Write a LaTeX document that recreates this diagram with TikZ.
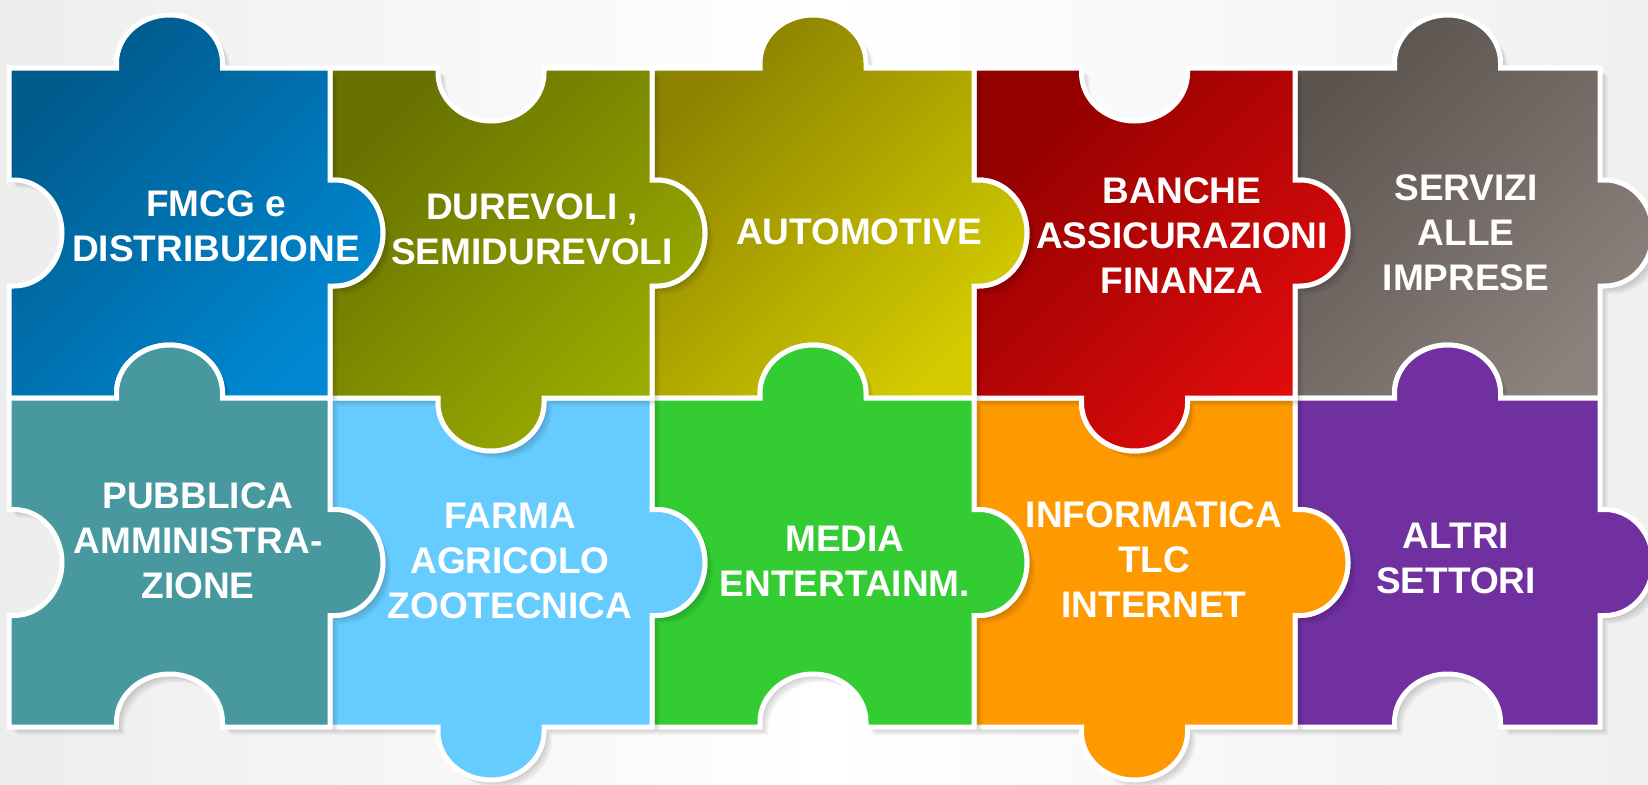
\documentclass[tikz,border=0pt]{standalone}
\usepackage{fontspec}
\setmainfont{Liberation Sans}
\definecolor{c1a}{HTML}{005A8C}\definecolor{c1b}{HTML}{0088D2}
\definecolor{c2a}{HTML}{687200}\definecolor{c2b}{HTML}{9CAE00}
\definecolor{c3a}{HTML}{8C8200}\definecolor{c3b}{HTML}{D4CC00}
\definecolor{c4a}{HTML}{920000}\definecolor{c4b}{HTML}{E20C0C}
\definecolor{c5a}{HTML}{5C544F}\definecolor{c5b}{HTML}{8C827E}
\definecolor{c6}{HTML}{4898A0}
\definecolor{c7}{HTML}{66CCFF}
\definecolor{c8}{HTML}{33CC33}
\definecolor{c9}{HTML}{FF9900}
\definecolor{c10}{HTML}{7030A0}
% puzzle outline: x0,y0,x1,y1, top,right,bottom,left (+1 tab, -1 blank)
\newcommand\pzl[8]{%
 (#1,#2) -- ({(#1+#3)/2-53},#2) -- ({(#1+#3)/2-53},{#2-(#5)*5})
 arc[start angle=180, end angle={180+(#5)*180}, x radius=53, y radius=48]
 -- ({(#1+#3)/2+53},#2) -- (#3,#2)
 -- (#3,{(#2+#4)/2-53}) -- ({#3+(#6)*5},{(#2+#4)/2-53})
 arc[start angle=270, end angle={270+(#6)*180}, x radius=48, y radius=53]
 -- (#3,{(#2+#4)/2+53}) -- (#3,#4)
 -- ({(#1+#3)/2+53},#4) -- ({(#1+#3)/2+53},{#4+(#7)*5})
 arc[start angle=0, end angle={(#7)*180}, x radius=53, y radius=48]
 -- ({(#1+#3)/2-53},#4) -- (#1,#4)
 -- (#1,{(#2+#4)/2+53}) -- ({#1-(#8)*5},{(#2+#4)/2+53})
 arc[start angle=90, end angle={90+(#8)*180}, x radius=48, y radius=53]
 -- (#1,{(#2+#4)/2-53}) -- cycle}
\newcommand\mkpiece[9]{%
 \foreach \k in {2,4,...,10} {\fill[black, opacity=0.045, shift={(\k*0.8,\k*0.8)}] \pzl{#1}{#2}{#3}{#4}{#5}{#6}{#7}{#8};}
 \path[pzborder, #9] \pzl{#1}{#2}{#3}{#4}{#5}{#6}{#7}{#8};
}
\begin{document}
\begin{tikzpicture}[x=1pt,y=-1pt,
  txt/.style={text=white, font=\fontsize{37}{45}\selectfont\bfseries, align=center, inner sep=0pt},
  pzborder/.style={draw=white, line width=5pt},
  grad/.style 2 args={top color=#1, bottom color=#2, shading angle=45}]
\useasboundingbox (0,0) rectangle (1648,784);
\clip (0,0) rectangle (1648,784);
\shade[left color=black!7, right color=black!6, middle color=white] (0,0) rectangle (1648,784);
% pieces, bottom of stack first
\mkpiece{1295}{68}{1600}{398}{1}{1}{-1}{-1}{grad={c5a}{c5b}}
\mkpiece{1295}{398}{1600}{727}{1}{1}{-1}{-1}{fill=c10}
\mkpiece{974}{398}{1295}{727}{-1}{1}{1}{-1}{fill=c9}
\mkpiece{974}{68}{1295}{398}{-1}{1}{1}{-1}{grad={c4a}{c4b}}
\mkpiece{652}{68}{974}{398}{1}{1}{-1}{-1}{grad={c3a}{c3b}}
\mkpiece{652}{398}{974}{727}{1}{1}{-1}{-1}{fill=c8}
\mkpiece{330}{398}{652}{727}{-1}{1}{1}{-1}{fill=c7}
\mkpiece{330}{68}{652}{398}{-1}{1}{1}{-1}{grad={c2a}{c2b}}
\mkpiece{9}{68}{330}{398}{1}{1}{-1}{-1}{grad={c1a}{c1b}}
\mkpiece{9}{398}{330}{727}{1}{1}{-1}{-1}{fill=c6}
% labels
\node[txt] (t1) at (216,226) {FMCG e\\DISTRIBUZIONE};
\node[txt] (t2) at (532,229) {DUREVOLI ,\\SEMIDUREVOLI};
\node[txt] (t3) at (859,232) {AUTOMOTIVE};
\node[txt] (t4) at (1182,236) {BANCHE\\ASSICURAZIONI\\FINANZA};
\node[txt] (t5) at (1466,233) {SERVIZI\\ALLE\\IMPRESE};
\node[txt] (t6) at (198,541) {PUBBLICA\\AMMINISTRA-\\ZIONE};
\node[txt] (t7) at (510,561) {FARMA\\AGRICOLO\\ZOOTECNICA};
\node[txt] (t8) at (845,561) {MEDIA\\ENTERTAINM.};
\node[txt] (t9) at (1154,560) {INFORMATICA\\TLC\\INTERNET};
\node[txt] (t10) at (1456,558) {ALTRI\\SETTORI};
\end{tikzpicture}
\end{document}
